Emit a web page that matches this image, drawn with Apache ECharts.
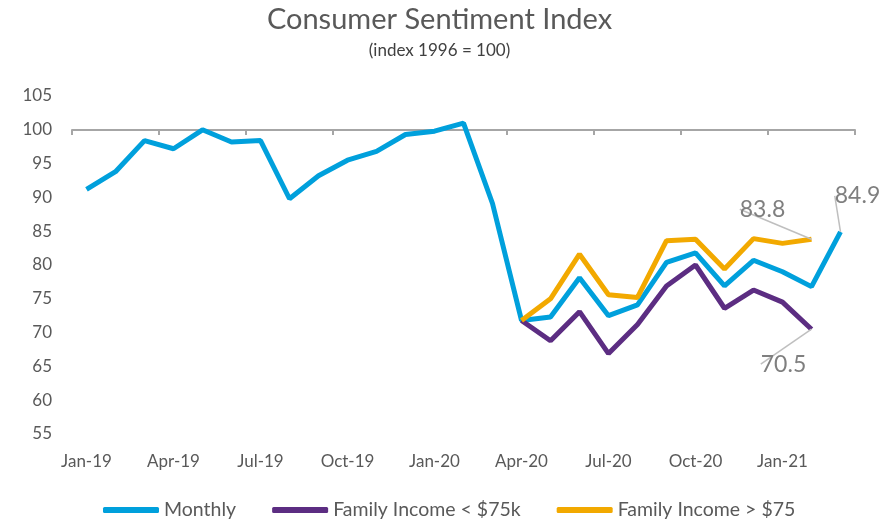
<!DOCTYPE html>
<html style="height: 100%">
   <head>
       <meta charset="utf-8">
   </head>
   <body style="height: 100%; margin: 0; background: #fff">
       <div id="container" style="height: 100%"></div>
       <script type="text/javascript" src="https://cdn.jsdelivr.net/npm/echarts@6/dist/echarts.min.js"></script>
       <script type="text/javascript">
var months = ['Jan-19','Feb-19','Mar-19','Apr-19','May-19','Jun-19','Jul-19','Aug-19','Sep-19','Oct-19','Nov-19','Dec-19',
              'Jan-20','Feb-20','Mar-20','Apr-20','May-20','Jun-20','Jul-20','Aug-20','Sep-20','Oct-20','Nov-20','Dec-20',
              'Jan-21','Feb-21','Mar-21'];
var monthly = [91.2, 93.8, 98.4, 97.2, 100.0, 98.2, 98.4, 89.8, 93.2, 95.5, 96.8, 99.3,
               99.8, 101.0, 89.1, 71.8, 72.3, 78.1, 72.5, 74.1, 80.4, 81.8, 76.9, 80.7,
               79.0, 76.8, 84.9];
// family income series only start in Apr-20 and stop at Feb-21
var under75 = ['-','-','-','-','-','-','-','-','-','-','-','-',
               '-','-','-', 71.8, 68.8, 73.1, 66.9, 71.2, 76.9, 80.0, 73.6, 76.3,
               74.5, 70.5, '-'];
var over75 = ['-','-','-','-','-','-','-','-','-','-','-','-',
              '-','-','-', 71.8, 75.0, 81.6, 75.6, 75.2, 83.6, 83.8, 79.4, 83.9,
              83.2, 83.8, '-'];

var dom = document.getElementById("container");
var myChart = echarts.init(dom);
var font = 'Lato, "Open Sans", sans-serif';
var txt = '#595959';

// only the last point of a series gets a label
function endLabel(data) {
    var last = -1;
    for (var i = 0; i < data.length; i++) {
        if (data[i] !== '-') last = i;
    }
    return data.map(function (v, i) {
        if (i !== last) return v;
        return {
            value: v,
            label: {
                show: true,
                position: 'inside',
                formatter: function (p) { return p.value.toFixed(1); },
                color: '#7f7f7f',
                fontSize: 23,
                fontFamily: font
            }
        };
    });
}

var leader = { show: true, minTurnAngle: 180, lineStyle: { color: '#bfbfbf', width: 1.5 } };

var option = {
    backgroundColor: '#fff',
    animation: false,
    title: {
        text: 'Consumer Sentiment Index',
        subtext: '(index 1996 = 100)',
        left: 'center',
        top: 0,
        itemGap: 8,
        textStyle: { color: txt, fontSize: 29, fontWeight: 'normal', fontFamily: font },
        subtextStyle: { color: '#404040', fontSize: 17, fontFamily: font }
    },
    legend: {
        bottom: 0,
        left: 98,
        itemWidth: 56,
        itemHeight: 6,
        itemGap: 36,
        icon: 'roundRect',
        textStyle: { color: txt, fontSize: 19.5, fontFamily: font },
        data: ['Monthly', 'Family Income < $75k', 'Family Income > $75']
    },
    grid: { left: 72, right: 24, top: 96, bottom: 91 },
    xAxis: [{
        type: 'category',
        data: months,
        position: 'bottom',
        axisLine: { show: false },
        axisTick: { show: false },
        axisLabel: { interval: 2, color: txt, fontSize: 17, fontFamily: font, margin: 19 }
    }, {
        // the horizontal axis line crosses at 100
        type: 'category',
        data: months,
        position: 'top',
        offset: -34,
        axisLine: { show: true, lineStyle: { color: '#a6a6a6', width: 2 } },
        axisTick: { show: true, inside: true, interval: 2, length: 5, lineStyle: { color: '#a6a6a6', width: 2 } },
        axisLabel: { show: false }
    }],
    yAxis: {
        type: 'value',
        min: 55,
        max: 105,
        interval: 5,
        axisLine: { show: false },
        axisTick: { show: false },
        splitLine: { show: false },
        axisLabel: { color: txt, fontSize: 17, fontFamily: font, margin: 20 }
    },
    series: [{
        name: 'Monthly',
        type: 'line',
        symbol: 'circle',
        symbolSize: 0,
        z: 2,
        data: endLabel(monthly),
        labelLayout: { dx: 17, dy: -36 },
        labelLine: leader,
        itemStyle: { color: '#00a0dc' },
        lineStyle: { width: 5, color: '#00a0dc' }
    }, {
        name: 'Family Income < $75k',
        type: 'line',
        symbol: 'circle',
        symbolSize: 0,
        z: 3,
        data: endLabel(under75),
        labelLayout: { dx: -28, dy: 35 },
        labelLine: leader,
        itemStyle: { color: '#5c2d82' },
        lineStyle: { width: 5, color: '#5c2d82' }
    }, {
        name: 'Family Income > $75',
        type: 'line',
        symbol: 'circle',
        symbolSize: 0,
        z: 4,
        data: endLabel(over75),
        labelLayout: { dx: -49, dy: -30 },
        labelLine: leader,
        itemStyle: { color: '#f2a900' },
        lineStyle: { width: 5, color: '#f2a900' }
    }]
};
myChart.setOption(option, true);
       </script>
   </body>
</html>
